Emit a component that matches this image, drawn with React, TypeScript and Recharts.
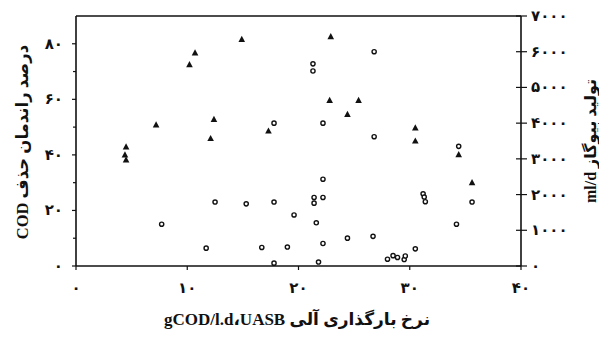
import React from 'react'
import { ScatterChart, Scatter, XAxis, YAxis, ReferenceLine } from 'recharts'

// organic loading rate (gCOD/l.d) vs COD removal efficiency (%)
const removalLoad = [4.5, 4.4, 4.5, 7.2, 10.2, 10.7, 14.9, 12.4, 12.1, 17.3, 22.9, 22.8, 25.4, 24.4, 30.5, 30.5, 34.4, 35.6]
const removalPct = [42.9, 40.0, 38.2, 50.8, 72.5, 76.7, 81.6, 52.8, 45.9, 48.6, 82.6, 59.6, 59.6, 54.6, 49.7, 45.0, 40.1, 30.0]

// organic loading rate vs biogas production (ml/d)
const biogasLoad = [
  17.8, 21.3, 21.3, 26.8, 22.2, 26.8, 34.4, 7.7, 11.7, 12.5, 15.3, 16.7, 17.8, 17.8, 19.0, 19.6, 21.4, 21.4,
  22.2, 22.2, 21.6, 22.2, 21.8, 24.4, 26.7, 28.0, 28.5, 28.9, 29.5, 29.6, 30.5, 31.2, 31.3, 31.4, 34.2, 35.6,
]
const biogasRate = [
  4000, 5660, 5460, 6000, 4000, 3620, 3350, 1170, 500, 1790, 1740, 520, 1790, 80, 530, 1430, 1920, 1760,
  1920, 2430, 1210, 630, 110, 780, 830, 190, 290, 240, 180, 280, 480, 2020, 1930, 1800, 1170, 1790,
]

const xTicks = [0, 10, 20, 30, 40]
const leftTicks = [0, 10, 20, 30, 40, 50, 60, 70, 80]
const rightTicks = [0, 1000, 2000, 3000, 4000, 5000, 6000, 7000]

const xTitle = 'نرخ بارگذاری آلی UASB،\u200FgCOD/l.d'
const leftTitle = 'درصد راندمان حذف COD'
const rightTitle = 'تولید بیوگاز ml/d'

const removalData = removalLoad.map((x, i) => ({ x, y: removalPct[i] }))
const biogasData = biogasLoad.map((x, i) => ({ x, y: biogasRate[i] }))

const FA = '۰۱۲۳۴۵۶۷۸۹'
const toFa = (v: number) => String(v).replace(/\d/g, (d) => FA[Number(d)])
const rtl = (s: string) => '\u202B' + s + '\u202C'

const W = 607
const H = 337
const LEFT = 76
const RIGHT = 521
const BOTTOM = 266
const ink = '#111'
const faFont = "'Liberation Serif', 'DejaVu Sans', serif"
const tickFont = { fontFamily: "'DejaVu Sans', sans-serif", fontWeight: 700, fontSize: 15, fill: ink }

const Triangle = (p: any) => (
  <path d={`M${p.cx},${p.cy - 3.6} L${p.cx + 3.3},${p.cy + 2.6} L${p.cx - 3.3},${p.cy + 2.6} Z`} fill={ink} />
)
const Ring = (p: any) => <circle cx={p.cx} cy={p.cy} r={2.1} fill="#fff" stroke={ink} strokeWidth={1.4} />

const LeftTick = ({ y, payload }: any) => {
  const major = payload.value % 20 === 0
  return (
    <g>
      <line x1={major ? LEFT - 4 : LEFT - 3} x2={LEFT} y1={y} y2={y} stroke={ink} strokeWidth={1.2} />
      {major && (
        <text x={LEFT - 13} y={y} textAnchor="end" dominantBaseline="central" style={tickFont}>
          {toFa(payload.value)}
        </text>
      )}
    </g>
  )
}

const RightTick = ({ y, payload }: any) => (
  <g>
    <line x1={RIGHT - 5} x2={RIGHT + 6} y1={y} y2={y} stroke={ink} strokeWidth={1.2} />
    <text x={RIGHT + 10} y={y} textAnchor="start" dominantBaseline="central" style={tickFont}>
      {toFa(payload.value)}
    </text>
  </g>
)

const BottomTick = ({ x, payload }: any) => (
  <g>
    <line x1={x} x2={x} y1={BOTTOM} y2={BOTTOM + 4} stroke={ink} strokeWidth={1.2} />
    <text x={x} y={BOTTOM + 22} textAnchor="middle" dominantBaseline="central" style={tickFont}>
      {toFa(payload.value)}
    </text>
  </g>
)

const XTitle = () => (
  <text x={297} y={325} textAnchor="middle" style={{ fontFamily: faFont, fontWeight: 700, fontSize: 17, fill: ink }}>
    {rtl(xTitle)}
  </text>
)
const LeftTitle = () => (
  <text
    x={22}
    y={142}
    transform="rotate(-90 22 142)"
    textAnchor="middle"
    dominantBaseline="central"
    style={{ fontFamily: faFont, fontWeight: 700, fontSize: 16.5, fill: ink }}
  >
    {rtl(leftTitle)}
  </text>
)
const RightTitle = () => (
  <text
    x={590}
    y={141}
    transform="rotate(-90 590 141)"
    textAnchor="middle"
    dominantBaseline="central"
    style={{ fontFamily: faFont, fontWeight: 700, fontSize: 16, fill: ink }}
  >
    {rtl(rightTitle)}
  </text>
)

export default function App() {
  return (
    <div style={{ margin: -8, width: W, height: H, background: '#fff' }}>
      <ScatterChart width={W} height={H} margin={{ top: 16, right: 0, bottom: 0, left: 0 }}>
        <XAxis
          dataKey="x"
          type="number"
          domain={[0, 40]}
          ticks={xTicks}
          height={71}
          axisLine={{ stroke: ink, strokeWidth: 1.6 }}
          tickLine={false}
          tick={BottomTick}
          label={<XTitle />}
        />
        <YAxis
          yAxisId="left"
          dataKey="y"
          type="number"
          domain={[0, 90]}
          ticks={leftTicks}
          width={LEFT}
          axisLine={{ stroke: ink, strokeWidth: 1.6 }}
          tickLine={false}
          tick={LeftTick}
          label={<LeftTitle />}
        />
        <YAxis
          yAxisId="right"
          orientation="right"
          dataKey="y"
          type="number"
          domain={[0, 7000]}
          ticks={rightTicks}
          width={W - RIGHT}
          axisLine={{ stroke: ink, strokeWidth: 1.6 }}
          tickLine={false}
          tick={RightTick}
          label={<RightTitle />}
        />
        <ReferenceLine yAxisId="left" y={90} stroke={ink} strokeWidth={1.6} />
        <Scatter yAxisId="left" data={removalData} shape={Triangle} isAnimationActive={false} />
        <Scatter yAxisId="right" data={biogasData} shape={Ring} isAnimationActive={false} />
      </ScatterChart>
    </div>
  )
}
